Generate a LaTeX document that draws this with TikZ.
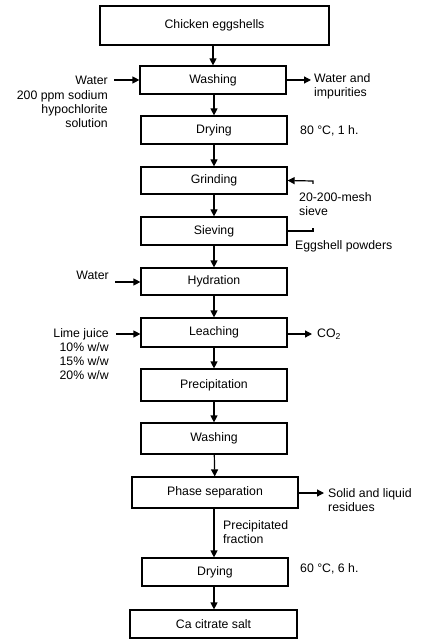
\documentclass[tikz,border=0pt]{standalone}
\usepackage{fontspec}
\setmainfont{Liberation Sans}
\usetikzlibrary{arrows.meta}
\begin{document}
\begin{tikzpicture}[x=1pt,y=-1pt,
  every node/.style={font=\fontsize{12.3}{14}\selectfont, inner sep=0pt},
  boxnode/.style={draw, line width=1.2pt, inner sep=0pt},
  lab/.style={align=left, anchor=west},
  labr/.style={align=right, anchor=east},
  arr/.style={line width=1.2pt, -{Triangle[length=7pt,width=7pt]}},
  ln/.style={line width=1.2pt}]
\useasboundingbox (0,0) rectangle (432,644);
% boxes
\node[boxnode, minimum width=229pt, minimum height=39pt] (ce) at (214.5,25.5) {Chicken eggshells};
\node[boxnode, minimum width=146pt, minimum height=28pt] (w1) at (213,80) {Washing};
\node[boxnode, minimum width=146pt, minimum height=28pt] (d1) at (214,130) {Drying};
\node[boxnode, minimum width=146pt, minimum height=27pt] (gr) at (214,180.5) {Grinding};
\node[boxnode, minimum width=146pt, minimum height=28pt] (sv) at (214,231) {Sieving};
\node[boxnode, minimum width=146pt, minimum height=27pt] (hy) at (214,281.5) {Hydration};
\node[boxnode, minimum width=146pt, minimum height=29pt] (le) at (214,332.5) {Leaching};
\node[boxnode, minimum width=146pt, minimum height=32pt] (pr) at (214,385) {Precipitation};
\node[boxnode, minimum width=146pt, minimum height=31pt] (w2) at (214,438.5) {Washing};
\node[boxnode, minimum width=166pt, minimum height=31pt] (ps) at (215,492.5) {Phase separation};
\node[boxnode, minimum width=146pt, minimum height=28pt] (d2) at (215,572) {Drying};
\node[boxnode, minimum width=167pt, minimum height=28pt] (ca) at (213.5,624) {Ca citrate salt};
% main flow
\draw[arr] (ce.south -| w1) -- (w1.north);
\draw[arr] (w1.south -| d1) -- (d1.north);
\draw[arr] (d1) -- (gr);
\draw[arr] (gr) -- (sv);
\draw[arr] (sv) -- (hy);
\draw[arr] (hy) -- (le);
\draw[arr] (le) -- (pr);
\draw[arr] (pr) -- (w2);
\draw[arr] (w2) -- (ps);
\draw[arr] (ps.south -| 214,0) -- (d2.north -| 214,0);
\draw[arr] (d2.south -| 214,0) -- (ca.north -| 214,0);
% washing inputs/outputs
\node[labr] (wat1) at (108,80) {Water};
\node[labr] (hyp) at (108,109) {200 ppm sodium\\hypochlorite\\solution};
\coordinate (wat1s) at (114,80);
\draw[arr] (wat1s) -- (w1.west);
\node[lab] (wimp) at (314,86) {Water and\\impurities};
\coordinate (wimpe) at (311,80);
\draw[arr] (w1.east) -- (wimpe);
\node[lab] (c80) at (300,131) {80 °C, 1 h.};
% sieve bracket
\coordinate (b1) at (313,181);
\coordinate (b1t) at (313,184);
\coordinate (b2) at (313,231);
\coordinate (b2t) at (313,228);
\draw[arr] (b1t) -- (b1) -- (gr.east);
\draw[ln] (sv.east) -- (b2) -- (b2t);
\node[lab] (mesh) at (299,204.5) {20-200-mesh\\sieve};
\node[lab] (egp) at (295,246) {Eggshell powders};
% hydration
\node[labr] (wat2) at (109,275) {Water};
\coordinate (wat2s) at (115,282);
\draw[arr] (wat2s) -- (hy.west |- wat2s);
% leaching
\node[labr] (lime) at (109,354) {Lime juice\\10\% w/w\\15\% w/w\\20\% w/w};
\coordinate (limes) at (116,334);
\draw[arr] (limes) -- (le.west |- limes);
\coordinate (co2e) at (312,334);
\draw[arr] (le.east |- co2e) -- (co2e);
\node[lab] (co2) at (317,334) {CO\textsubscript{2}};
% phase separation
\coordinate (sle) at (324,493);
\draw[arr] (ps.east |- sle) -- (sle);
\node[lab] (slr) at (328,500) {Solid and liquid\\residues};
\node[lab] (pf) at (223,532.5) {Precipitated\\fraction};
\node[lab] (c60) at (300,569) {60 °C, 6 h.};
\end{tikzpicture}
\end{document}
